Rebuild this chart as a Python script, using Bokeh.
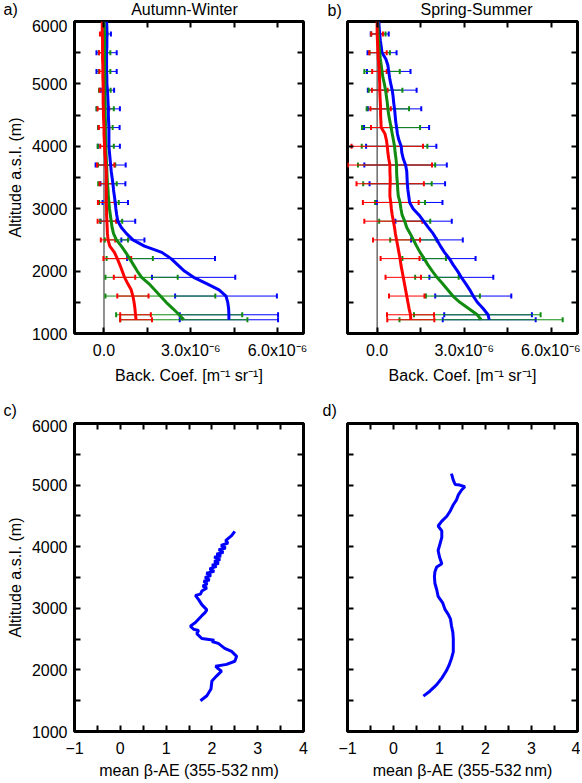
import numpy as np
from bokeh.plotting import figure
from bokeh.models import (Range1d, FixedTicker, LinearAxis, Whisker, TeeHead,
                          ColumnDataSource, Span, CustomJSTickFormatter)
from bokeh.layouts import column, row
from bokeh.embed import file_html
from bokeh.resources import INLINE
from bokeh.core.properties import value

FONT = "Liberation Sans"
BLUE = "#0000ff"
GREEN = "#118c11"
RED = "#ff0000"

# ---------------- data (backscatter in units of 1e-6 m^-1 sr^-1) ----------------
ALT = [1220, 1300, 1400, 1500, 1600, 1700, 1800, 1900, 2000, 2100, 2200, 2300,
       2400, 2500, 2600, 2700, 2800, 2900, 3000, 3100, 3200, 3300, 3400, 3500,
       3600, 3700, 3800, 3900, 4000, 4100, 4200, 4300, 4400, 4500, 4600, 4700,
       4800, 4900, 5000, 5100, 5200, 5300, 5400, 5500, 5600, 5700, 5800, 5900, 6000]

AW_BLUE = [4.32, 4.32, 4.31, 4.28, 4.22, 3.98, 3.55, 3.10, 2.78, 2.55, 2.32, 2.00,
           1.40, 1.00, 0.78, 0.60, 0.48, 0.44, 0.41, 0.39, 0.36, 0.33, 0.31, 0.28,
           0.25, 0.23, 0.21, 0.19, 0.17, 0.17, 0.17, 0.17, 0.16, 0.15, 0.15, 0.14,
           0.13, 0.12, 0.10, 0.10, 0.09, 0.09, 0.09, 0.09, 0.10, 0.10, 0.10, 0.10, 0.09]
AW_GREEN = [2.76, 2.60, 2.38, 2.15, 1.95, 1.75, 1.55, 1.30, 1.15, 1.02, 0.89, 0.75,
            0.60, 0.43, 0.33, 0.28, 0.25, 0.22, 0.19, 0.17, 0.15, 0.14, 0.12, 0.11,
            0.10, 0.09, 0.08, 0.07, 0.06, 0.06, 0.05, 0.05, 0.05, 0.04, 0.04, 0.04,
            0.03, 0.03, 0.03, 0.03, 0.02, 0.02, 0.02, 0.02, 0.02, 0.02, 0.02, 0.01, 0.00]
AW_RED = [1.11, 1.09, 1.07, 1.04, 1.00, 0.94, 0.82, 0.71, 0.63, 0.55, 0.46, 0.36,
          0.20, 0.14, 0.12, 0.11, 0.10, 0.09, 0.09, 0.08, 0.08, 0.08, 0.08, 0.08,
          0.08, 0.06, 0.05, 0.03, 0.02, 0.01, 0.00, 0.00, -0.01, -0.02, -0.02, -0.03,
          -0.03, -0.03, -0.03, -0.04, -0.04, -0.04, -0.05, -0.05, -0.05, -0.05, -0.06, -0.06, -0.06]

SS_BLUE = [3.86, 3.82, 3.65, 3.45, 3.31, 3.19, 3.05, 2.90, 2.77, 2.62, 2.49, 2.32,
           2.18, 2.06, 1.93, 1.76, 1.60, 1.44, 1.24, 1.12, 1.09, 1.06, 1.04, 1.03,
           1.02, 0.98, 0.90, 0.85, 0.83, 0.75, 0.70, 0.67, 0.64, 0.62, 0.60, 0.57,
           0.55, 0.52, 0.47, 0.43, 0.40, 0.37, 0.30, 0.17, 0.14, 0.11, 0.09, 0.07, 0.06]
SS_GREEN = [3.58, 3.45, 3.15, 2.85, 2.61, 2.43, 2.25, 2.06, 1.90, 1.75, 1.62, 1.48,
            1.36, 1.25, 1.14, 1.02, 0.95, 0.86, 0.82, 0.79, 0.73, 0.71, 0.70, 0.68,
            0.67, 0.67, 0.65, 0.62, 0.60, 0.56, 0.52, 0.48, 0.44, 0.40, 0.37, 0.35,
            0.32, 0.29, 0.25, 0.20, 0.17, 0.14, 0.11, 0.09, 0.07, 0.05, 0.04, 0.03, 0.02]
SS_RED = [1.16, 1.15, 1.10, 1.06, 1.02, 0.98, 0.94, 0.90, 0.86, 0.82, 0.79, 0.75,
          0.71, 0.67, 0.63, 0.60, 0.56, 0.52, 0.49, 0.47, 0.44, 0.44, 0.45, 0.45,
          0.44, 0.44, 0.40, 0.37, 0.35, 0.32, 0.27, 0.14, 0.13, 0.12, 0.12, 0.11,
          0.10, 0.09, 0.09, 0.08, 0.08, 0.06, 0.04, 0.03, 0.02, 0.01, 0.00, 0.00, 0.00]

# error bars (standard deviation) at these altitudes
BAR_ALT = [1220, 1300, 1600, 1900, 2200, 2500, 2800, 3100, 3400, 3700, 4000,
           4300, 4600, 4900, 5200, 5500, 5800]
AW_BLUE_SD = [1.70, 1.70, 1.76, 1.44, 1.52, 0.40, 0.60, 0.44, 0.43, 0.52, 0.38,
              0.37, 0.40, 0.23, 0.35, 0.35, 0.14]
AW_GREEN_SD = [2.20, 2.18, 1.90, 1.25, 0.80, 0.40, 0.38, 0.34, 0.32, 0.30, 0.28,
               0.25, 0.30, 0.20, 0.20, 0.20, 0.10]
AW_RED_SD = [0.55, 0.53, 0.54, 0.37, 0.48, 0.25, 0.32, 0.29, 0.23, 0.30, 0.15,
             0.18, 0.20, 0.12, 0.12, 0.12, 0.08]
SS_BLUE_SD = [1.60, 1.51, 1.31, 1.10, 0.90, 0.89, 0.97, 1.13, 1.30, 1.42, 1.21,
              1.12, 0.92, 0.84, 0.75, 0.50, 0.31]
SS_GREEN_SD = [2.81, 2.18, 0.93, 0.75, 0.75, 0.80, 0.88, 0.86, 1.18, 1.33, 1.13,
               1.00, 0.73, 0.58, 0.61, 0.35, 0.25]
SS_RED_SD = [0.81, 0.81, 0.61, 0.61, 0.67, 0.81, 1.00, 0.96, 1.16, 1.45, 1.23,
             0.35, 0.35, 0.27, 0.25, 0.30, 0.20]

# mean backscatter-related Angstrom exponent profiles
AWAE_ALT = [1500, 1580, 1690, 1820, 1900, 1980, 2030, 2060, 2090, 2140, 2220, 2300,
            2350, 2430, 2460, 2480, 2510, 2590, 2640, 2660, 2710, 2770, 2880, 2930,
            2975, 3060, 3140, 3210, 3230, 3280, 3330, 3360, 3400, 3440, 3460, 3500,
            3530, 3570, 3600, 3640, 3680, 3700, 3730, 3760, 3790, 3830, 3850, 3880,
            3910, 3950, 3980, 4020, 4060, 4100, 4180, 4250]
AWAE_VAL = [1.75, 1.89, 1.98, 2.00, 2.10, 2.21, 2.12, 2.08, 2.32, 2.50, 2.54, 2.43,
            2.28, 2.14, 2.00, 2.05, 1.78, 1.67, 1.71, 1.60, 1.53, 1.64, 1.78, 1.85,
            1.89, 1.78, 1.71, 1.64, 1.75, 1.78, 1.89, 1.80, 1.90, 1.82, 1.95, 1.85,
            1.98, 1.88, 2.05, 1.95, 2.10, 2.00, 2.15, 2.05, 2.18, 2.05, 2.20, 2.10,
            2.25, 2.15, 2.30, 2.20, 2.35, 2.30, 2.43, 2.50]
SSAE_ALT = [1575, 1654, 1760, 1867, 1973, 2079, 2185, 2292, 2398, 2504, 2610, 2716,
            2823, 2902, 2982, 3088, 3194, 3301, 3407, 3513, 3593, 3672, 3725, 3832,
            3938, 4044, 4150, 4257, 4336, 4416, 4495, 4575, 4681, 4761, 4841, 4920,
            4973, 5000, 5010, 5080, 5186]
SSAE_VAL = [0.65, 0.79, 0.94, 1.05, 1.14, 1.21, 1.26, 1.30, 1.30, 1.30, 1.29, 1.26,
            1.24, 1.19, 1.12, 1.07, 0.97, 0.94, 0.90, 0.89, 0.90, 0.94, 1.05, 1.00,
            0.97, 1.01, 1.05, 1.05, 0.97, 1.05, 1.16, 1.23, 1.30, 1.37, 1.41, 1.48,
            1.55, 1.44, 1.34, 1.30, 1.26]

Y_TICKS = [1000, 2000, 3000, 4000, 5000, 6000]
Y_MINOR = [1500, 2500, 3500, 4500, 5500]
BC_TICKS = [0, 3, 6]
BC_MINOR = [1.5, 4.5]
BC_LABELS = {0: "0.0", 3: "3.0x10\u207b\u2076", 6: "6.0x10\u207b\u2076"}
AE_TICKS = [-1, 0, 1, 2, 3, 4]
AE_MINOR = [-0.5, 0.5, 1.5, 2.5, 3.5]

TOP_TEXTS = ["a)", "Autumn-Winter", "b)", "Spring-Summer"]
MID_TEXTS = ["c)", "d)"]

# ---------------- layout constants (pixels) ----------------
W_LEFT, W_RIGHT = 325, 255
TOP_HDR_H = 19
MID_HDR_H = 29


def style_axis(ax, show_labels):
    ax.axis_line_color = None
    ax.major_tick_in = 6
    ax.major_tick_out = 0
    ax.minor_tick_in = 6
    ax.minor_tick_out = 0
    ax.major_tick_line_width = 2
    ax.minor_tick_line_width = 2
    ax.major_tick_line_color = "black"
    ax.minor_tick_line_color = "black"
    ax.major_label_text_font = FONT
    ax.major_label_text_color = "black"
    ax.axis_label_text_font = FONT
    ax.axis_label_text_font_style = "normal"
    ax.axis_label_text_color = "black"
    ax.axis_label_text_font_size = "16px"
    if show_labels:
        ax.major_label_text_font_size = "16px"
        ax.major_label_standoff = 7
        ax.axis_label_standoff = 5
    else:
        ax.formatter = CustomJSTickFormatter(code="return ''")
        ax.major_label_text_font_size = "1px"
        ax.major_label_standoff = 0


def make_fig(width, height, mbl, mbr, mbt, mbb, xr, xt, xm, left_labels,
             xlabel, xstand, xover=None):
    p = figure(width=width, height=height, x_range=Range1d(*xr),
               y_range=Range1d(1000, 6000), output_backend="svg",
               toolbar_location=None, min_border_left=mbl, min_border_right=mbr,
               min_border_top=mbt, min_border_bottom=mbb)
    p.title.visible = False
    p.xgrid.visible = False
    p.ygrid.visible = False
    p.outline_line_color = "black"
    p.outline_line_width = 3
    p.outline_line_alpha = 1
    p.background_fill_color = "white"
    p.border_fill_color = "white"
    xtick = FixedTicker(ticks=xt, minor_ticks=xm)
    ytick = FixedTicker(ticks=Y_TICKS, minor_ticks=Y_MINOR)
    bx = p.xaxis[0]
    bx.ticker = xtick
    if xover:
        bx.major_label_overrides = xover
    bx.axis_label = xlabel
    style_axis(bx, True)
    bx.major_label_standoff = xstand
    ly = p.yaxis[0]
    ly.ticker = ytick
    style_axis(ly, left_labels)
    if left_labels:
        ly.axis_label = "Altitude a.s.l. (m)"
    ra = LinearAxis(ticker=ytick)
    style_axis(ra, False)
    p.add_layout(ra, "right")
    ta = LinearAxis(ticker=xtick)
    style_axis(ta, False)
    p.add_layout(ta, "above")
    return p


def header(height, texts, xs, middles, aligns):
    width = W_LEFT + W_RIGHT
    h = figure(width=width, height=height, x_range=Range1d(0, width),
               y_range=Range1d(height, 0), output_backend="svg",
               toolbar_location=None, x_axis_type=None, y_axis_type=None,
               min_border=0)
    h.title.visible = False
    h.grid.visible = False
    h.outline_line_color = None
    h.background_fill_color = "white"
    h.border_fill_color = "white"
    src = ColumnDataSource(dict(x=xs, y=middles, t=texts, a=aligns))
    h.text(x="x", y="y", text="t", text_align="a", source=src,
           text_font=value(FONT), text_font_size=value("16px"),
           text_color="black", text_baseline="middle")
    return h


def add_profiles(p, profiles):
    p.add_layout(Span(location=0, dimension="height", line_color="#222222",
                      line_width=1, level="underlay"))
    alt = np.array(ALT)
    idx = np.searchsorted(alt, BAR_ALT)
    for vals, sd, col in profiles:
        v = np.array(vals)
        s = np.array(sd)
        c = v[idx]
        src = ColumnDataSource(dict(base=BAR_ALT, lower=c - s, upper=c + s))
        p.add_layout(Whisker(source=src, base="base", lower="lower", upper="upper",
                             dimension="width", line_color=col, line_width=1,
                             level="underlay",
                             upper_head=TeeHead(size=5, line_color=col, line_width=2),
                             lower_head=TeeHead(size=5, line_color=col, line_width=2)))
    for vals, sd, col in profiles:
        p.line(vals, ALT, line_color=col, line_width=3)


BC_RANGE = (-1.02, 6.9)
BC_LABEL = "Back. Coef. [m\u207b\u00b9 sr\u207b\u00b9]"
AE_LABEL = "mean \u03b2-AE (355-532\u2009nm)"

hdr_top = header(TOP_HDR_H, TOP_TEXTS, [3, 184, 327, 476], [9, 9, 10, 9],
                 ["left", "center", "left", "center"])

# top row: frames at x 74-303 / 347-577, y 21-333
pa = make_fig(W_LEFT, 371, 74, 22, 2, 57, BC_RANGE, BC_TICKS, BC_MINOR, True,
              BC_LABEL, 8, BC_LABELS)
add_profiles(pa, [(AW_BLUE, AW_BLUE_SD, BLUE), (AW_GREEN, AW_GREEN_SD, GREEN),
                  (AW_RED, AW_RED_SD, RED)])

pb = make_fig(W_RIGHT, 371, 22, 3, 2, 57, BC_RANGE, BC_TICKS, BC_MINOR, False,
              BC_LABEL, 8, BC_LABELS)
add_profiles(pb, [(SS_BLUE, SS_BLUE_SD, BLUE), (SS_GREEN, SS_GREEN_SD, GREEN),
                  (SS_RED, SS_RED_SD, RED)])

hdr_mid = header(MID_HDR_H, MID_TEXTS, [3, 322], [20, 20], ["left", "left"])

# bottom row: frames at y 423-738
pc = make_fig(W_LEFT, 362, 74, 22, 4, 43, (-1, 4), AE_TICKS, AE_MINOR, True,
              AE_LABEL, 10)
pc.line(AWAE_VAL, AWAE_ALT, line_color=BLUE, line_width=3)

pd_ = make_fig(W_RIGHT, 362, 22, 3, 4, 43, (-1, 4), AE_TICKS, AE_MINOR, False,
               AE_LABEL, 10)
pd_.line(SSAE_VAL, SSAE_ALT, line_color=BLUE, line_width=3)

layout = column(hdr_top, row(pa, pb), hdr_mid, row(pc, pd_))
open("out.html", "w").write(file_html(layout, INLINE))
